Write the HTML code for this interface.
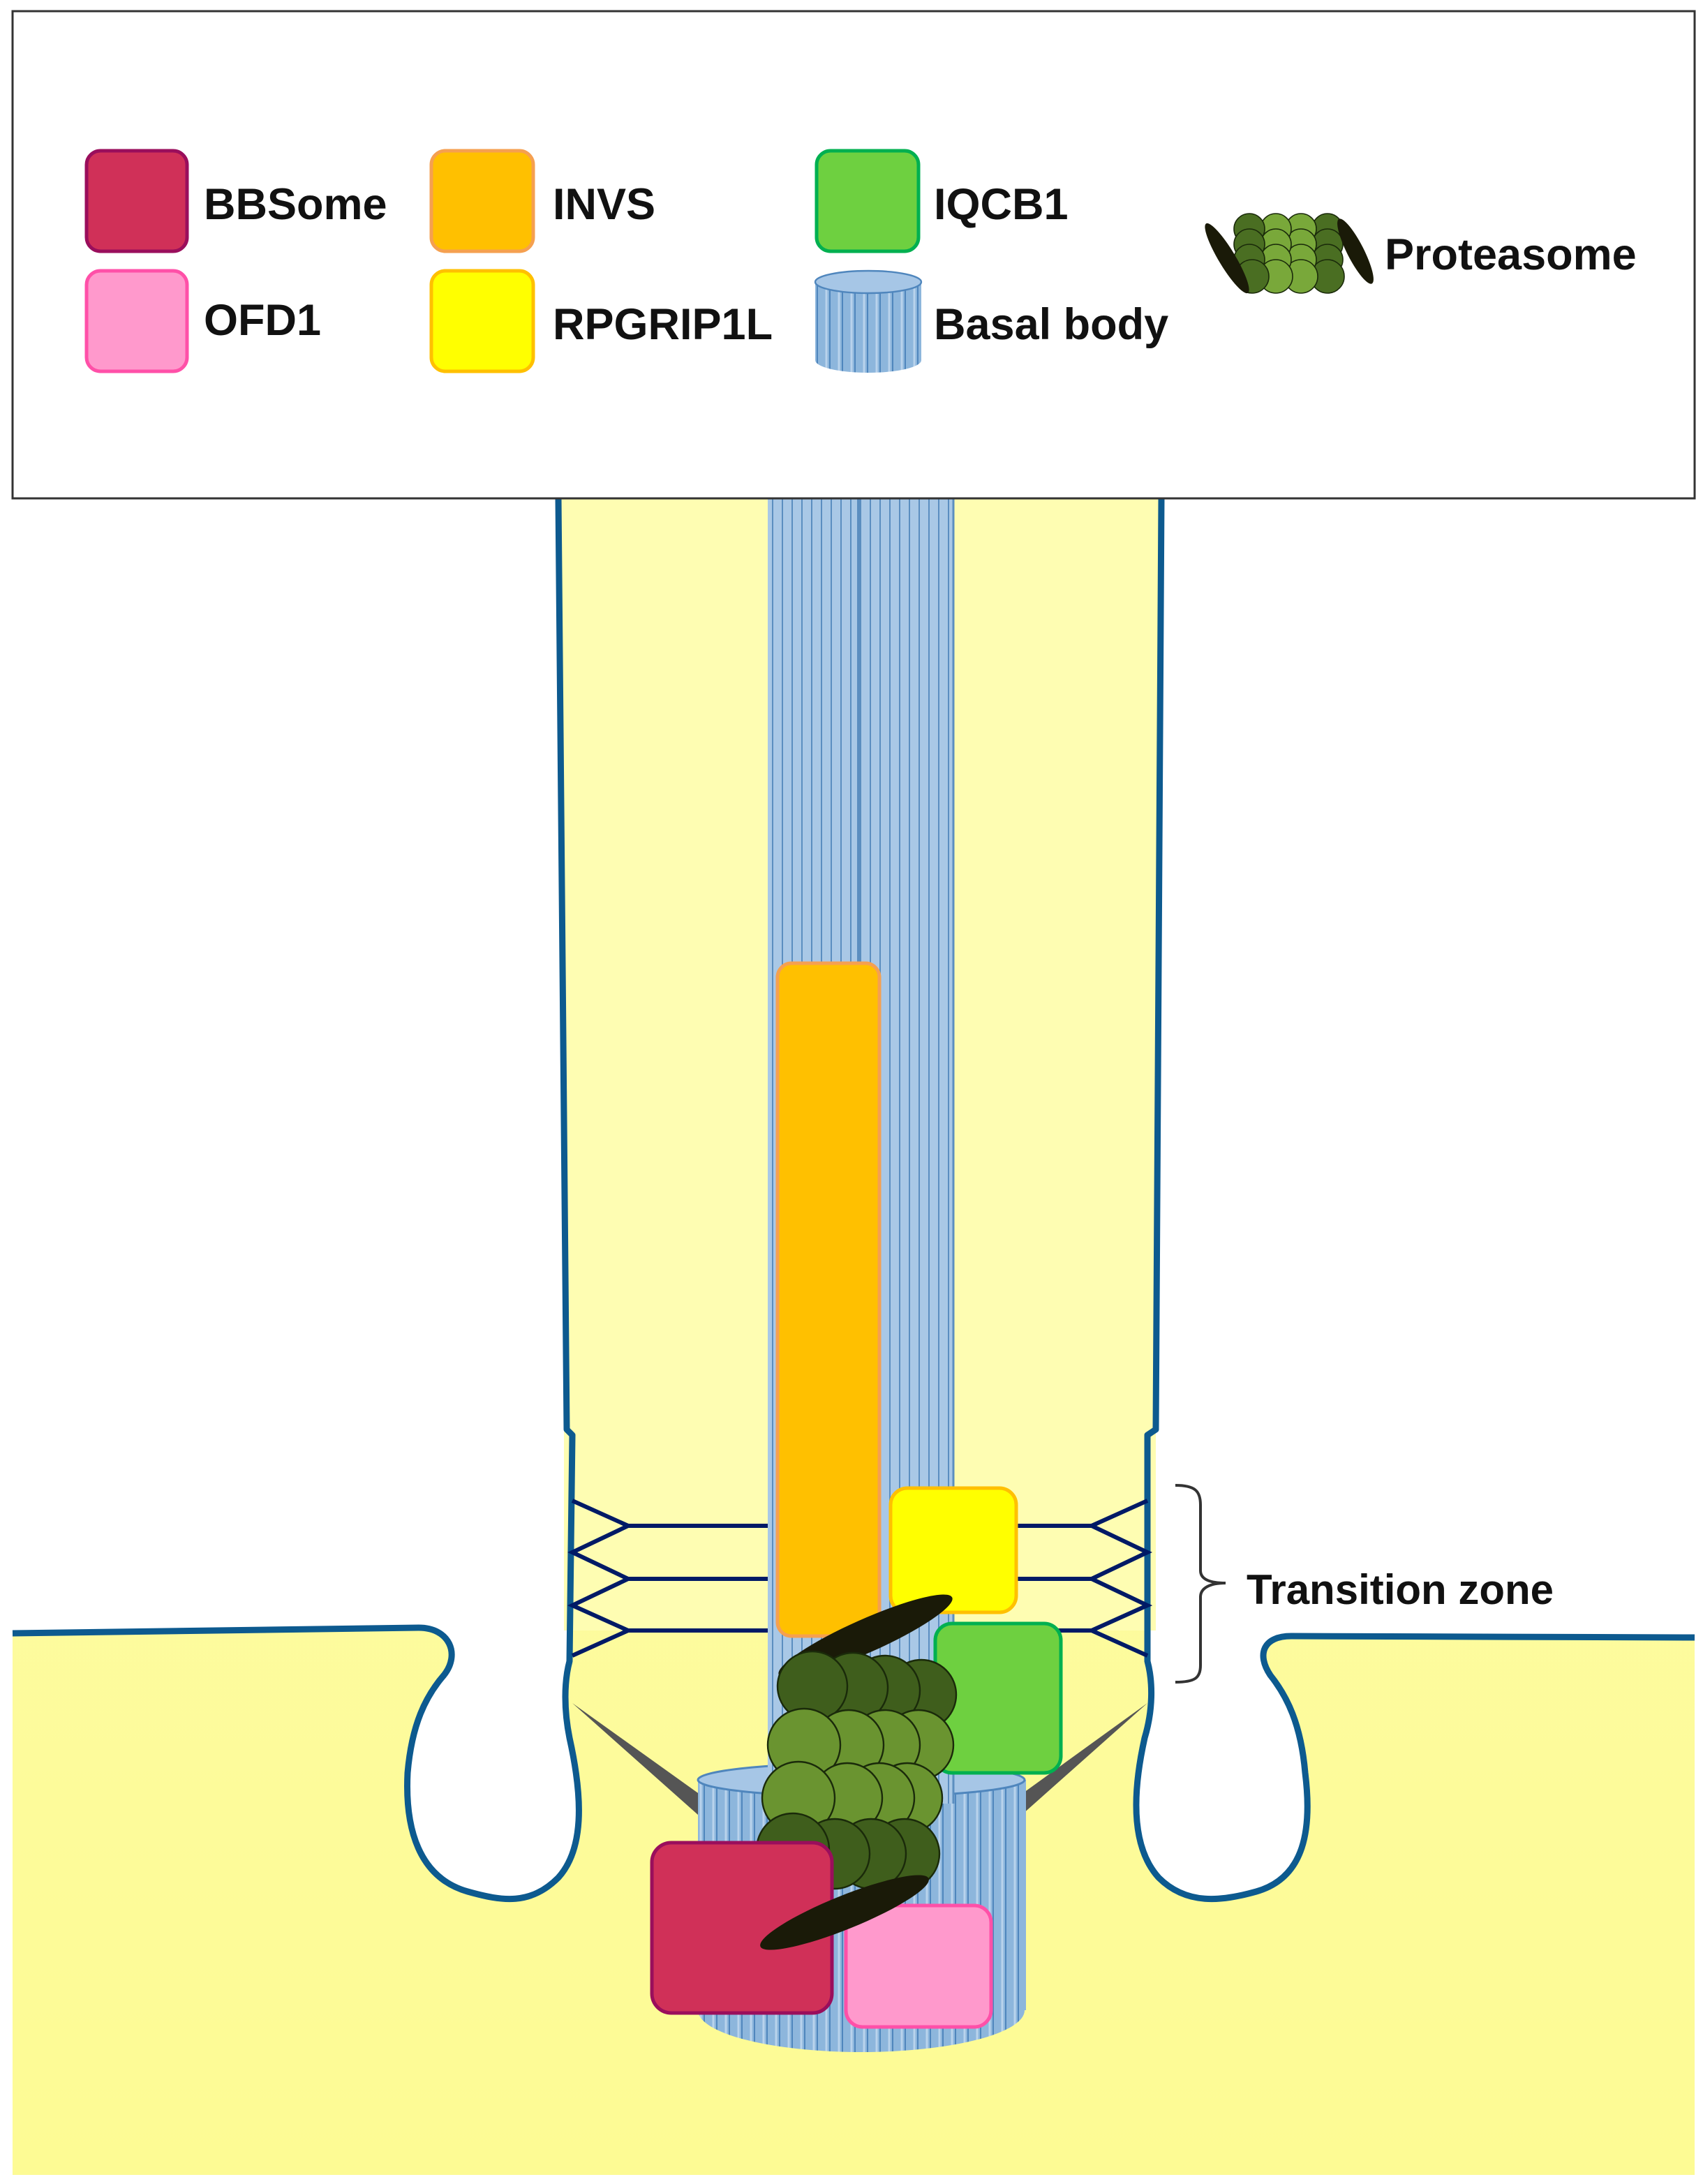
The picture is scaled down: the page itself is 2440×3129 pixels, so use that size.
<!DOCTYPE html>
<html><head><meta charset="utf-8"><style>html,body{margin:0;padding:0;background:#fff}svg{display:block}text{font-family:"Liberation Sans",Arial,sans-serif;font-weight:bold;fill:#111}</style></head>
<body>
<svg width="2440" height="3129" viewBox="0 0 1220 1564.5" xmlns="http://www.w3.org/2000/svg">
<defs>
<linearGradient id="cyt" x1="0" y1="0" x2="0" y2="1"><stop offset="0" stop-color="#fdfcb0"/><stop offset="1" stop-color="#fdfb94"/></linearGradient>
<pattern id="rods" x="0" y="0" width="9" height="10" patternUnits="userSpaceOnUse"><rect width="9" height="10" fill="#8db6dc"/><line x1="0.5" y1="0" x2="0.5" y2="10" stroke="#4f86bd" stroke-width="1"/><line x1="7" y1="0" x2="7" y2="10" stroke="#b9d3ec" stroke-width="1.5"/></pattern>
<pattern id="rods2" x="0" y="0" width="7" height="10" patternUnits="userSpaceOnUse"><rect width="7" height="10" fill="#a9c8e6"/><line x1="0.5" y1="0" x2="0.5" y2="10" stroke="#5b8ec0" stroke-width="1"/></pattern>
</defs>
<rect width="1220" height="1564.5" fill="#fff"/>
<path d="M9,1170 L300,1166 C322,1166 330,1185 318,1200 C305,1215 295,1235 292,1270 C290,1310 300,1345 335,1355 C360,1362 380,1365 400,1345 C418,1325 418,1290 408,1245 C404,1225 404,1205 408,1190 L406,1030 L400,357 L832,357 L828,1030 L822,1190 C826,1205 826,1225 820,1245 C810,1290 812,1325 830,1345 C850,1365 875,1362 900,1355 C935,1345 940,1310 935,1270 C932,1235 922,1215 910,1200 C900,1185 905,1172 925,1172 L1214,1173 L1214,1558 L9,1558 Z" fill="url(#cyt)"/>
<rect x="404" y="357" width="424" height="811" fill="#fefdb2"/>
<path d="M9,1170 L300,1166 C322,1166 330,1185 318,1200 C305,1215 295,1235 292,1270 C290,1310 300,1345 335,1355 C360,1362 380,1365 400,1345 C418,1325 418,1290 408,1245 C404,1225 404,1205 408,1190 L410,1028 L406,1024 L400,357" fill="none" stroke="#0d5a8f" stroke-width="4.5" stroke-linejoin="round"/>
<path d="M832,357 L828,1024 L822,1028 L822,1190 C826,1205 826,1225 820,1245 C810,1290 812,1325 830,1345 C850,1365 875,1362 900,1355 C935,1345 940,1310 935,1270 C932,1235 922,1215 910,1200 C900,1185 905,1172 925,1172 L1214,1173" fill="none" stroke="#0d5a8f" stroke-width="4.5" stroke-linejoin="round"/>
<polygon points="410,1220 505,1288 500,1300" fill="#555"/>
<polygon points="822,1220 732,1300 728,1288" fill="#555"/>
<rect x="500" y="1275" width="235" height="165" fill="url(#rods)"/>
<ellipse cx="617" cy="1440" rx="117" ry="30" fill="url(#rods)"/>
<ellipse cx="617" cy="1275" rx="117" ry="12" fill="#a6c6e6" stroke="#4f86bd" stroke-width="1.5"/>
<rect x="550" y="357" width="133" height="935" fill="url(#rods2)"/>
<line x1="683" y1="357" x2="683" y2="1292" stroke="#5b8ec0" stroke-width="1.5"/>
<line x1="615" y1="357" x2="615" y2="1292" stroke="#5b8ec0" stroke-width="2"/>
<g stroke="#001a66" stroke-width="3" fill="none">
<path d="M450,1093 L550,1093 M450,1131 L550,1131 M450,1168 L550,1168"/>
<path d="M410,1075 L450,1093 L410,1112 L450,1131 L410,1150 L450,1168 L410,1186"/>
<path d="M728,1093 L782,1093 M728,1131 L782,1131 M728,1168 L782,1168"/>
<path d="M822,1075 L782,1093 L822,1112 L782,1131 L822,1150 L782,1168 L822,1186"/>
</g>
<rect x="557" y="690" width="73" height="482" rx="10" fill="#ffc000" stroke="#f5a050" stroke-width="2.5"/>
<rect x="638" y="1066" width="90" height="89" rx="12" fill="#ffff00" stroke="#ffc000" stroke-width="2.5"/>
<rect x="670" y="1163" width="90" height="107" rx="12" fill="#6ed040" stroke="#00b050" stroke-width="2.5"/>
<ellipse cx="620" cy="1172" rx="68" ry="12" transform="rotate(-24 620 1172)" fill="#1a1a08"/>
<g stroke="#1a2a0a" stroke-width="1.2">
<g fill="#3f5e1c"><circle cx="660" cy="1214" r="25"/><circle cx="634" cy="1211" r="25"/><circle cx="611" cy="1209" r="25"/><circle cx="582" cy="1208" r="25"/></g>
<g fill="#6a9430"><circle cx="658" cy="1250" r="25"/><circle cx="634" cy="1250" r="25"/><circle cx="608" cy="1250" r="25"/><circle cx="576" cy="1250" r="26"/></g>
<g fill="#6a9430"><circle cx="650" cy="1288" r="25"/><circle cx="630" cy="1288" r="25"/><circle cx="607" cy="1288" r="25"/><circle cx="572" cy="1288" r="26"/></g>
<g fill="#3f5e1c"><circle cx="648" cy="1328" r="25"/><circle cx="624" cy="1328" r="25"/><circle cx="598" cy="1328" r="25"/><circle cx="568" cy="1325" r="26"/></g>
</g>
<rect x="467" y="1320" width="129" height="122" rx="14" fill="#d03058" stroke="#9a0e5c" stroke-width="2.5"/>
<rect x="606" y="1365" width="104" height="87" rx="12" fill="#ff99cc" stroke="#ff50a8" stroke-width="2.5"/>
<ellipse cx="605" cy="1370" rx="65" ry="12" transform="rotate(-22 605 1370)" fill="#1a1a08"/>
<path d="M842,1064 C856,1064 860,1068 860,1078 L860,1125 C860,1131 866,1134 878,1134 C866,1134 860,1138 860,1144 L860,1193 C860,1202 856,1205 842,1205" fill="none" stroke="#333" stroke-width="2"/>
<text x="893" y="1149" font-size="30">Transition zone</text>
<rect x="9" y="8" width="1205" height="349" fill="#fff" stroke="#333" stroke-width="1.5"/>
<rect x="62" y="108" width="72" height="72" rx="10" fill="#d03058" stroke="#9a0e5c" stroke-width="2.5"/>
<rect x="62" y="194" width="72" height="72" rx="10" fill="#ff99cc" stroke="#ff50a8" stroke-width="2.5"/>
<rect x="309" y="108" width="73" height="72" rx="10" fill="#ffc000" stroke="#f5a050" stroke-width="2.5"/>
<rect x="309" y="194" width="73" height="72" rx="10" fill="#ffff00" stroke="#ffc000" stroke-width="2.5"/>
<rect x="585" y="108" width="73" height="72" rx="10" fill="#6ed040" stroke="#00b050" stroke-width="2.5"/>
<rect x="584" y="202" width="76" height="56" fill="url(#rods)"/>
<ellipse cx="622" cy="258" rx="38" ry="9" fill="url(#rods)"/>
<ellipse cx="622" cy="202" rx="38" ry="8" fill="#a6c6e6" stroke="#4f86bd" stroke-width="1.2"/>
<text x="146" y="157" font-size="31.5">BBSome</text>
<text x="146" y="240" font-size="31.5">OFD1</text>
<text x="396" y="157" font-size="31.5">INVS</text>
<text x="396" y="243" font-size="31.5">RPGRIP1L</text>
<text x="669" y="157" font-size="31.5">IQCB1</text>
<text x="669" y="243" font-size="31.5">Basal body</text>
<g stroke="#1a2a0a" stroke-width="0.8">
<g fill="#4a6e22"><circle cx="951" cy="164" r="11"/><circle cx="951" cy="175" r="11"/><circle cx="951" cy="186" r="11"/><circle cx="951" cy="198" r="12"/></g>
<g fill="#79a83a"><circle cx="932" cy="164" r="11"/><circle cx="932" cy="175" r="11"/><circle cx="932" cy="186" r="11"/><circle cx="932" cy="198" r="12"/></g>
<g fill="#79a83a"><circle cx="914" cy="164" r="11"/><circle cx="914" cy="175" r="11"/><circle cx="914" cy="186" r="11"/><circle cx="914" cy="198" r="12"/></g>
<g fill="#4a6e22"><circle cx="895" cy="164" r="11"/><circle cx="895" cy="175" r="11"/><circle cx="895" cy="186" r="11"/><circle cx="897" cy="198" r="12"/></g>
</g>
<ellipse cx="879" cy="185" rx="29" ry="6" transform="rotate(59 879 185)" fill="#1a1a08"/>
<ellipse cx="971" cy="180" rx="26" ry="6" transform="rotate(63 971 180)" fill="#1a1a08"/>
<text x="992" y="193" font-size="31.5">Proteasome</text>
</svg>
</body></html>
